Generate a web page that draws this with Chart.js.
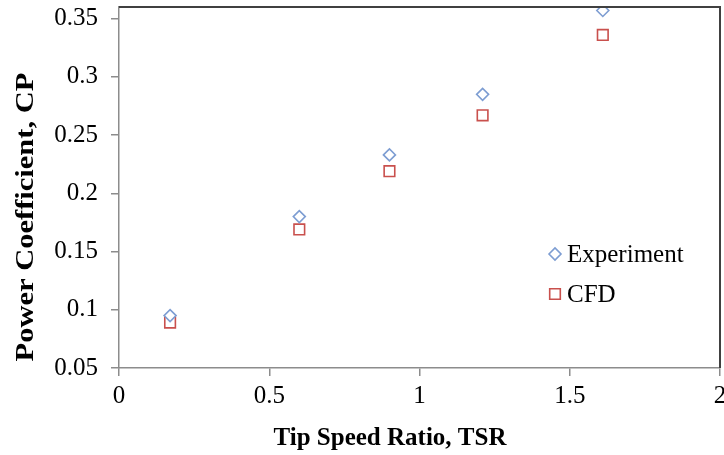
<!DOCTYPE html>
<html>
<head>
<meta charset="utf-8">
<script src="https://cdn.jsdelivr.net/npm/chart.js@4/dist/chart.umd.min.js"></script>
<style>
  html, body { margin: 0; padding: 0; background: #fff; }
  #wrap { width: 724px; height: 455px; }
</style>
</head>
<body>
<div id="wrap"><canvas id="cpChart" width="724" height="455"></canvas></div>
<script>
const tsrExperiment = [0.17, 0.60, 0.90, 1.21, 1.61];
const cpExperiment = [0.095, 0.180, 0.233, 0.285, 0.357];
const tsrCFD = [0.17, 0.60, 0.90, 1.21, 1.61];
const cpCFD = [0.089, 0.169, 0.219, 0.267, 0.336];
const xTicks = [0, 0.5, 1, 1.5, 2];
const yTicks = [0.05, 0.1, 0.15, 0.2, 0.25, 0.3, 0.35];
const xTitle = "Tip Speed Ratio, TSR";
const yTitle = "Power Coefficient, CP";

const serif = "'Liberation Serif', 'Times New Roman', serif";

// frame on top and right, axis titles and legend inside the plot
const framePlugin = {
  id: "frame",
  afterDraw(chart) {
    const { ctx, chartArea } = chart;
    ctx.save();
    ctx.strokeStyle = "#404040";
    ctx.lineWidth = 2;
    ctx.beginPath();
    ctx.moveTo(chartArea.left, chartArea.top);
    ctx.lineTo(chartArea.right, chartArea.top);
    ctx.lineTo(chartArea.right, chartArea.bottom);
    ctx.stroke();

    // axis titles
    ctx.fillStyle = "#000";
    ctx.font = "bold 25px " + serif;
    ctx.textAlign = "center";
    ctx.textBaseline = "alphabetic";
    ctx.fillText(xTitle, chartArea.left + 271, chartArea.bottom + 77);
    ctx.save();
    ctx.translate(33, chartArea.top + 210);
    ctx.rotate(-Math.PI / 2);
    ctx.scale(1.22, 1);
    ctx.fillText(yTitle, 0, 0);
    ctx.restore();

    // legend
    const lx = chartArea.left + 436;
    const rows = [chartArea.top + 247, chartArea.top + 287];
    ctx.textAlign = "left";
    chart.data.datasets.forEach((ds, i) => {
      ctx.lineWidth = 1.6;
      ctx.strokeStyle = ds.borderColor;
      ctx.fillStyle = "#fff";
      Chart.helpers.drawPoint(ctx, { pointStyle: ds.pointStyle, radius: ds.pointRadius, rotation: 0, borderWidth: 1.6 }, lx, rows[i]);
      ctx.fillStyle = "#000";
      ctx.font = "25px " + serif;
      ctx.textBaseline = "middle";
      ctx.fillText(ds.label, lx + 12, rows[i] + 1);
    });
    ctx.restore();
  }
};

const noPad = s => {
  s.paddingLeft = 0; s.paddingRight = 0; s.paddingTop = 0; s.paddingBottom = 0;
};

new Chart(document.getElementById("cpChart"), {
  type: "scatter",
  data: {
    datasets: [
      {
        label: "Experiment",
        data: tsrExperiment.map((x, i) => ({ x, y: cpExperiment[i] })),
        pointStyle: "rectRot",
        pointRadius: 6,
        borderColor: "#7d9dd2",
        backgroundColor: "#fff",
        borderWidth: 1.6
      },
      {
        label: "CFD",
        data: tsrCFD.map((x, i) => ({ x, y: cpCFD[i] })),
        pointStyle: "rect",
        pointRadius: 7.5,
        borderColor: "#c9504d",
        backgroundColor: "rgba(255,255,255,0)",
        borderWidth: 1.6
      }
    ]
  },
  options: {
    responsive: false,
    animation: false,
    layout: { autoPadding: false, padding: { top: 7, right: 4, left: 0, bottom: 0 } },
    plugins: { legend: { display: false }, tooltip: { enabled: false } },
    scales: {
      x: {
        type: "linear",
        min: 0,
        max: 2,
        afterBuildTicks: s => { s.ticks = xTicks.map(v => ({ value: v })); },
        afterFit: s => { s.height = 87; noPad(s); },
        grid: { drawOnChartArea: false, color: "#8c8c8c", tickLength: 8, lineWidth: 1.5 },
        border: { color: "#8c8c8c", width: 1.5 },
        ticks: { color: "#000", padding: 5, font: { family: serif, size: 25 }, maxRotation: 0, callback: v => String(v) }
      },
      y: {
        type: "linear",
        min: 0.05,
        max: 0.36,
        afterBuildTicks: s => { s.ticks = yTicks.map(v => ({ value: v })); },
        afterFit: s => { s.width = 119; noPad(s); },
        grid: { drawOnChartArea: false, color: "#8c8c8c", tickLength: 8, lineWidth: 1.5 },
        border: { color: "#8c8c8c", width: 1.5 },
        ticks: { color: "#000", padding: 13, font: { family: serif, size: 25 }, callback: v => String(v) }
      }
    }
  },
  plugins: [framePlugin]
});
</script>
</body>
</html>
